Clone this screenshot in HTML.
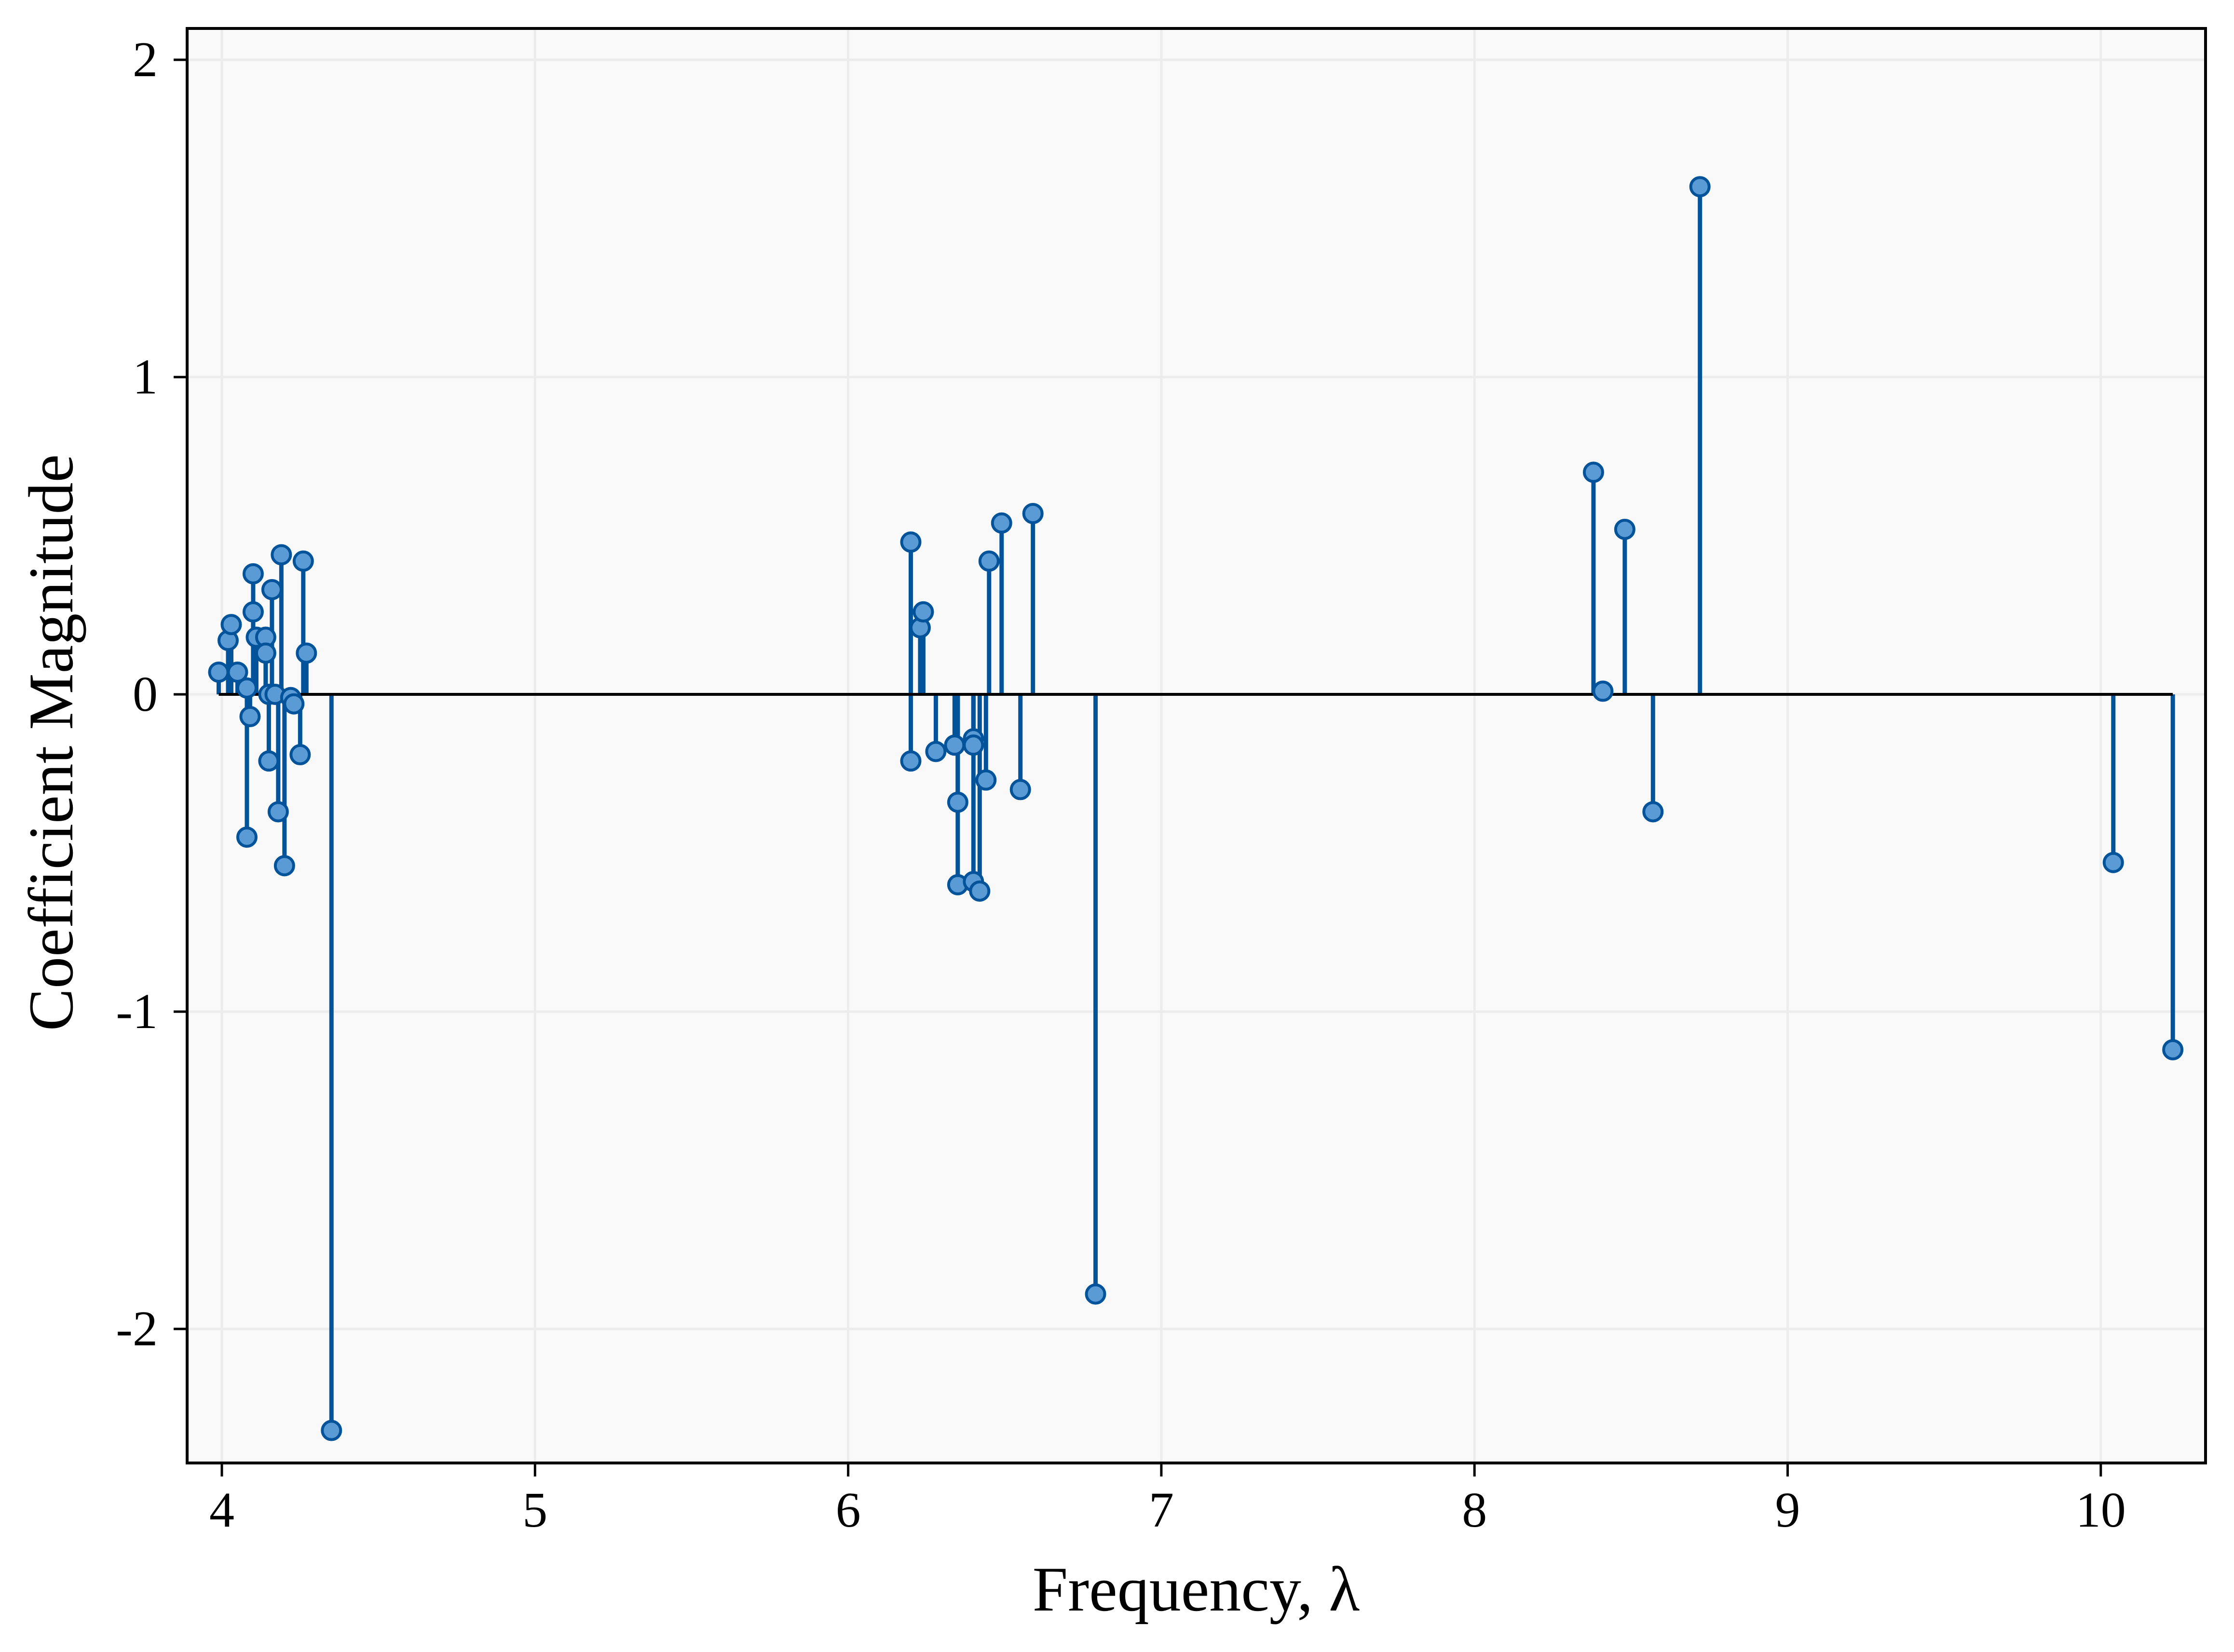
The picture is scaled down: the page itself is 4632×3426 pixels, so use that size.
<!DOCTYPE html>
<html><head><meta charset="utf-8"><style>
html,body{margin:0;padding:0;background:#fff;}
svg{display:block;font-family:"Liberation Serif",serif;}
</style></head><body>
<svg id="chart" width="4632" height="3426" viewBox="0 0 4632 3426" xmlns="http://www.w3.org/2000/svg">
<rect x="388" y="59" width="4185" height="2975" fill="#f9f9f9"/>
<g id="grid"></g>
<g id="stems"></g>
<g id="baseline-g"></g>
<g id="markers"></g>
<rect x="388" y="59" width="4185" height="2975" fill="none" stroke="#000" stroke-width="6"/>
<g id="xticks"></g>
<g id="yticks"></g>
<text x="2480" y="3340" font-size="132" text-anchor="middle">Frequency, λ</text>
<text transform="translate(150,1540) rotate(-90)" font-size="132" text-anchor="middle">Coefficient Magnitude</text>
</svg>
<script>
const freqs = [3.99,4.02,4.03,4.05,4.08,4.08,4.09,4.10,4.10,4.11,4.14,4.14,4.15,4.15,4.16,4.17,4.18,4.19,4.20,4.22,4.23,4.25,4.26,4.27,4.35,
 6.20,6.20,6.23,6.24,6.28,6.34,6.35,6.35,6.40,6.40,6.40,6.42,6.44,6.45,6.49,6.55,6.59,6.79,
 8.38,8.41,8.48,8.57,8.72,10.04,10.23];
const coeffs = [0.07,0.17,0.22,0.07,0.02,-0.45,-0.07,0.26,0.38,0.18,0.18,0.13,0.0,-0.21,0.33,0.0,-0.37,0.44,-0.54,-0.01,-0.03,-0.19,0.42,0.13,-2.32,
 -0.21,0.48,0.21,0.26,-0.18,-0.16,-0.34,-0.60,-0.14,-0.59,-0.16,-0.62,-0.27,0.42,0.54,-0.30,0.57,-1.89,
 0.70,0.01,0.52,-0.37,1.60,-0.53,-1.12];
const xTicks = [4,5,6,7,8,9,10];
const yTicks = [2,1,0,-1,-2];
const yTickLabels = ["2","1","0","-1","-2"];

const NS="http://www.w3.org/2000/svg";
const L=388,R=4573,T=59,B=3034;
function sx(v){return 460+(v-4)*649.3;}
function sy(v){return 1440-v*658;}
function mk(tag,attrs,parent){const e=document.createElementNS(NS,tag);for(const k in attrs)e.setAttribute(k,attrs[k]);parent.appendChild(e);return e;}
const grid=document.getElementById('grid'),stems=document.getElementById('stems'),markers=document.getElementById('markers');
const xt=document.getElementById('xticks'),yt=document.getElementById('yticks'),bl=document.getElementById('baseline-g');

xTicks.forEach(v=>{
  const x=sx(v);
  const g=mk('line',{x1:x,x2:x,y1:T,y2:B,stroke:'#ececec','stroke-width':5},grid);
  
  
  const t=mk('line',{x1:x,x2:x,y1:B,y2:B+28,stroke:'#000','stroke-width':5},xt);
  
  
  const tx=mk('text',{x:x,y:B+132,'font-size':104,'text-anchor':'middle'},xt);
  tx.textContent=String(v);
  
  
});
yTicks.forEach((v,i)=>{
  const y=sy(v);
  const g=mk('line',{x1:L,x2:R,y1:y,y2:y,stroke:'#ececec','stroke-width':5},grid);
  
  
  const t=mk('line',{x1:L-28,x2:L,y1:y,y2:y,stroke:'#000','stroke-width':5},yt);
  
  
  const tx=mk('text',{x:327,y:y+34,'font-size':104,'text-anchor':'end'},yt);
  tx.textContent=yTickLabels[i];
  
  
});
freqs.forEach((f,i)=>{
  const x=sx(f),y=sy(coeffs[i]);
  const s=mk('line',{x1:x,x2:x,y1:sy(0),y2:y,stroke:'#02539a','stroke-width':9},stems);
  
  
  const c=mk('circle',{cx:x,cy:y,r:19,fill:'#5b9bd5',stroke:'#02539a','stroke-width':6},markers);
  
  
});
const minF=Math.min(...freqs),maxF=Math.max(...freqs);
const b=mk('line',{x1:sx(minF),x2:sx(maxF),y1:sy(0),y2:sy(0),stroke:'#000','stroke-width':6},bl);


</script>
</body></html>
